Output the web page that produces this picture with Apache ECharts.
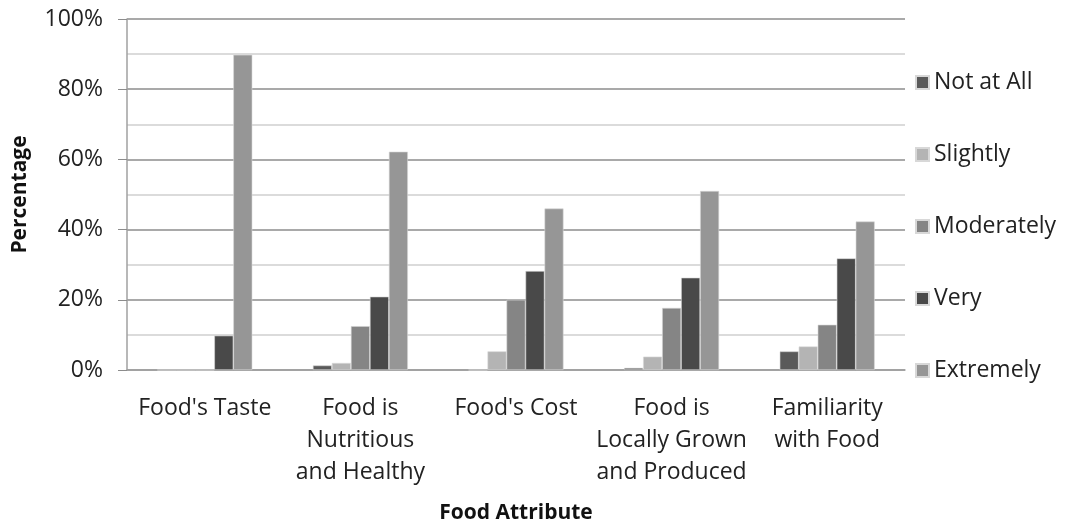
<!DOCTYPE html>
<html>
<head>
<meta charset="utf-8">
<script src="https://cdn.jsdelivr.net/npm/echarts@6/dist/echarts.min.js"></script>
<style>
html,body{margin:0;padding:0;background:#fff;}
#chart{width:1065px;height:529px;}
</style>
</head>
<body>
<div id="chart"></div>
<script>
var categories = ["Food's Taste", "Food is\nNutritious\nand Healthy", "Food's Cost", "Food is\nLocally Grown\nand Produced", "Familiarity\nwith Food"];
var seriesNames = ["Not at All", "Slightly", "Moderately", "Very", "Extremely"];
var notAtAll   = [0, 1.3, 0, 0.6, 5.3];
var slightly   = [0, 2.0, 5.3, 3.8, 6.7];
var moderately = [0, 12.5, 20.0, 17.7, 12.9];
var very       = [9.8, 20.9, 28.2, 26.3, 31.8];
var extremely  = [89.8, 62.2, 46.0, 51.0, 42.3];
var yTicks = [0, 20, 40, 60, 80, 100];

var colors = ['#5a5a5a', '#b4b4b4', '#858585', '#494949', '#969696'];
var values = [notAtAll, slightly, moderately, very, extremely];
var FONT = '"Open Sans", "Noto Sans", sans-serif';

var chart = echarts.init(document.getElementById('chart'));
chart.setOption({
  animation: false,
  textStyle: {fontFamily: FONT},
  grid: {left: 127, top: 19, width: 778, height: 353, containLabel: false},
  legend: {
    orient: 'vertical',
    left: 910,
    top: 66,
    itemWidth: 13,
    itemHeight: 13,
    itemGap: 49,
    icon: 'rect',
    textStyle: {fontSize: 23, color: '#222', fontFamily: FONT},
    data: seriesNames
  },
  xAxis: {
    type: 'category',
    data: categories,
    axisLine: {lineStyle: {color: '#a0a0a0', width: 1.5}},
    axisTick: {show: false},
    axisLabel: {color: '#222', fontSize: 23, lineHeight: 32, margin: 22, interval: 0},
    name: 'Food Attribute',
    nameLocation: 'middle',
    nameGap: 133,
    nameTextStyle: {fontSize: 21, fontWeight: 'bold', color: '#111'}
  },
  yAxis: {
    type: 'value',
    min: yTicks[0],
    max: yTicks[yTicks.length - 1],
    interval: yTicks[1] - yTicks[0],
    axisLine: {show: true, lineStyle: {color: '#a0a0a0', width: 1.5}},
    axisTick: {show: true, length: 9, lineStyle: {color: '#8c8c8c'}},
    axisLabel: {color: '#222', fontSize: 23, margin: 24, formatter: function (v) { return v + '%'; }},
    splitLine: {lineStyle: {color: '#8c8c8c', width: 1.5}},
    minorTick: {show: false, splitNumber: 2},
    minorSplitLine: {show: true, lineStyle: {color: '#cfcfcf', width: 1.5}},
    name: 'Percentage',
    nameLocation: 'middle',
    nameGap: 96,
    nameRotate: 90,
    nameTextStyle: {fontSize: 21, fontWeight: 'bold', color: '#111'}
  },
  series: seriesNames.map(function (n, i) {
    return {
      name: n,
      type: 'bar',
      data: values[i],
      barWidth: 19,
      barGap: '0%',
      itemStyle: {color: colors[i], borderColor: '#d8d8d8', borderWidth: 0.6}
    };
  })
});
</script>
</body>
</html>
